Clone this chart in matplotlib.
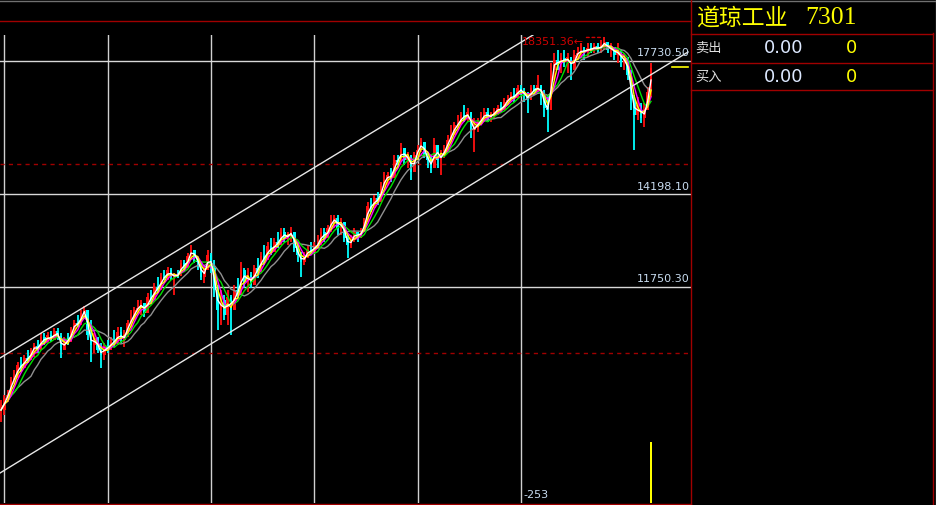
import matplotlib
matplotlib.use("Agg")
import matplotlib.pyplot as plt
from matplotlib.lines import Line2D
import numpy as np
import pandas as pd

plt.rcParams['font.family'] = ['Noto Sans CJK SC', 'DejaVu Sans']

# ---------------- data (Dow Jones index, bars) ----------------
high = [8754, 8886, 9019, 9363, 9548, 9760, 9892, 9945, 10078, 10130,
        10263, 10342, 10527, 10527, 10554, 10580, 10660, 10660, 10527, 10422,
        10527, 10686, 10872, 11004, 11136, 11242, 11136, 10872, 10527, 10422,
        10263, 10263, 10342, 10422, 10607, 10686, 10686, 10607, 10872, 11136,
        11216, 11401, 11401, 11322, 11586, 11666, 11851, 12010, 12116, 12195,
        12274, 12248, 12116, 12195, 12460, 12460, 12645, 12857, 12724, 12539,
        12380, 12274, 12724, 12645, 12460, 11798, 11666, 11533, 11666, 11533,
        11798, 11983, 12407, 12248, 12248, 12142, 12327, 12513, 12672, 12857,
        12936, 13042, 13042, 13201, 13307, 13307, 13201, 13333, 13201, 12936,
        12672, 12672, 12857, 12936, 12936, 13122, 13307, 13307, 13386, 13651,
        13651, 13651, 13571, 13386, 13122, 13122, 13307, 13201, 13307, 13571,
        13995, 14101, 14180, 14260, 14524, 14789, 14789, 14895, 15239, 15239,
        15557, 15319, 15319, 15160, 15319, 15504, 15689, 15504, 15319, 15239,
        15689, 15424, 15372, 15504, 15769, 16033, 16113, 16298, 16377, 16563,
        16483, 16298, 16219, 16219, 16377, 16483, 16483, 16377, 16483, 16563,
        16642, 16748, 16827, 16907, 17013, 17092, 17092, 17013, 16907, 17092,
        17092, 17357, 17092, 16960, 16827, 17674, 17939, 18018, 17939, 18018,
        17939, 17833, 18018, 18098, 18204, 18098, 18204, 18204, 18204, 18204,
        18283, 18351.36, 18204, 18204, 18098, 18204, 18018, 17939, 17833, 17489,
        16827, 16774, 16616, 16616, 17039, 17674]
low = [8172, 8357, 8701, 8966, 9178, 9363, 9495, 9628, 9733, 9813,
       9892, 9998, 10130, 10210, 10263, 10289, 10342, 10342, 9866, 10157,
       10210, 10342, 10527, 10686, 10872, 10951, 10342, 9760, 9998, 9998,
       9601, 9813, 9998, 10078, 10157, 10210, 10263, 10157, 10422, 10686,
       10872, 11057, 11004, 10951, 11136, 11322, 11480, 11586, 11745, 11930,
       11930, 11930, 11533, 11983, 12116, 12195, 12274, 12460, 12380, 12195,
       11930, 11851, 12195, 12116, 11480, 10607, 10739, 10872, 10739, 10475,
       11136, 11454, 11613, 11719, 11613, 11719, 11877, 11983, 12142, 12327,
       12513, 12592, 12672, 12777, 12857, 12936, 12857, 12936, 12672, 12407,
       12010, 12327, 12513, 12592, 12672, 12777, 12857, 12936, 13042, 13201,
       13307, 13122, 13122, 12936, 12513, 12777, 12936, 12936, 13042, 13201,
       13466, 13730, 13836, 13916, 14101, 14366, 14445, 14524, 14789, 14974,
       15160, 14974, 14895, 14577, 14974, 15160, 15319, 15160, 14895, 14763,
       15054, 14895, 14710, 15160, 15319, 15583, 15769, 15954, 16033, 16113,
       16113, 15689, 15319, 15848, 16033, 16113, 16113, 16113, 16219, 16298,
       16377, 16483, 16563, 16642, 16642, 16748, 16827, 16642, 16351, 16827,
       16827, 16907, 16563, 16245, 15848, 16695, 17224, 17489, 17410, 17568,
       17410, 17224, 17489, 17754, 17833, 17754, 17833, 17939, 17939, 17939,
       17939, 18018, 17939, 17833, 17754, 17674, 17568, 17489, 17224, 16430,
       15372, 16166, 16086, 15980, 16510, 16774]
close = [8489, 8807, 8886, 9283, 9336, 9680, 9601, 9866, 9813, 10078,
         10183, 10078, 10422, 10289, 10475, 10342, 10580, 10448, 10078, 10342,
         10289, 10607, 10792, 10739, 11057, 11136, 10475, 10210, 10395, 10078,
         9945, 10183, 10078, 10342, 10263, 10554, 10342, 10475, 10792, 10872,
         11136, 11189, 11322, 11057, 11480, 11401, 11745, 11666, 12010, 11983,
         12195, 12010, 12063, 12036, 12380, 12248, 12566, 12724, 12513, 12407,
         12010, 12195, 12592, 12248, 11666, 11136, 11401, 11004, 11480, 11136,
         11666, 11533, 12195, 11877, 12063, 11798, 12248, 12142, 12566, 12460,
         12830, 12672, 12936, 12857, 13201, 13042, 13122, 13201, 12777, 12592,
         12407, 12566, 12724, 12672, 12857, 12857, 13201, 13042, 13307, 13466,
         13571, 13307, 13466, 13042, 12857, 12989, 13201, 13042, 13254, 13466,
         13889, 13836, 14101, 13995, 14419, 14577, 14710, 14630, 15107, 15054,
         15424, 15107, 15239, 14789, 15239, 15372, 15583, 15239, 15107, 14895,
         15504, 15107, 15239, 15372, 15636, 15769, 16033, 16033, 16298, 16219,
         16377, 15901, 15954, 16113, 16166, 16377, 16219, 16298, 16377, 16483,
         16430, 16642, 16695, 16827, 16748, 17013, 16907, 16827, 16695, 17013,
         16907, 17092, 16827, 16483, 16430, 17489, 17754, 17621, 17807, 17701,
         17833, 17489, 17886, 17939, 18018, 17966, 18071, 18018, 18124, 18018,
         18151, 18230, 18018, 18098, 17886, 18018, 17701, 17807, 17357, 16695,
         16298, 16563, 16219, 16430, 16907, 17542]

ma_windows = [2, 3, 4, 6, 10]
ma_colors = ['#ffffff', '#ffff00', '#ff00ff', '#00e000', '#909090']

grid_bars = [1, 32, 63, 94, 125, 156]
level_lines = [17730.50, 14198.10, 11750.30]
level_labels = ['17730.50', '14198.10', '11750.30']
dashed_levels = [15000, 10000]

peak_value = 18351.36
peak_label = '18351.36'

# trend channel: two parallel lines (bar index, price)
chan_up_x = [-0.3, 159.6]
chan_up_y = [9866, 18416]
chan_lo_x = [-0.3, 206.1]
chan_lo_y = [6822, 17966]

last_marker_x = [201.3, 206.1]
last_marker_y = [17582, 17582]

ind_x = [195]
ind_v = [97]
ind_label = '-253'

title_name = '道琼工业'
title_code = '7301'
rows = [('卖出', '0.00', '0'), ('买入', '0.00', '0')]

# ---------------- figure ----------------
W, H = 937, 505
fig = plt.figure(figsize=(W / 100, H / 100), dpi=100, facecolor='black')

ax = fig.add_axes([0, 2 / H, 691 / W, 468 / H])
ax.set_facecolor('black')
ax.set_xlim(-0.3, 207.0)
ax.set_ylim(6028, 18416)
for s in ax.spines.values():
    s.set_visible(False)
ax.set_xticks([])
ax.set_yticks([])

# grid
for g in grid_bars:
    ax.axvline(g, color='#d0d0d0', lw=1.0, zorder=1)
for lv, lb in zip(level_lines, level_labels):
    ax.axhline(lv, color='#d8d8d8', lw=1.0, zorder=1)
    ax.annotate(lb, xy=(1.0, lv), xycoords=('axes fraction', 'data'),
                xytext=(-1, 2), textcoords='offset points', ha='right', va='bottom',
                color='#c8dcf0', fontsize=8, family='DejaVu Sans', zorder=6)
for dl in dashed_levels:
    ax.axhline(dl, color='#a00000', lw=1.0, ls=(0, (3, 3)), zorder=1)

# candles
idx = np.arange(len(close))
c = np.array(close, dtype=float)
o = np.concatenate([[c[0]], c[:-1]])
hi = np.array(high, dtype=float)
lo = np.array(low, dtype=float)
up = c >= o
cols = np.where(up, '#ff1010', '#00ffff')
ax.vlines(idx, lo, hi, colors=cols, lw=1.3, zorder=3)
ax.bar(idx, np.abs(c - o) + 1, bottom=np.minimum(o, c), width=0.75, color=cols, zorder=3, linewidth=0)

# moving averages
cs = pd.Series(c)
for w, col in zip(ma_windows[::-1], ma_colors[::-1]):
    ma = cs.rolling(w, min_periods=1).mean()
    ax.plot(idx, ma, color=col, lw=1.0, zorder=4)

# channel
ax.plot(chan_up_x, chan_up_y, color='#e8e8e8', lw=1.0, zorder=5)
ax.plot(chan_lo_x, chan_lo_y, color='#e8e8e8', lw=1.0, zorder=5)

# last price marker
ax.plot(last_marker_x, last_marker_y, color='#ffff00', lw=1.2, zorder=5)

# peak label
pk = int(np.argmax(hi))
ax.annotate('', xy=(pk - 0.3, peak_value), xytext=(pk - 6.2, peak_value),
            arrowprops=dict(arrowstyle='-', color='#d00000', lw=1, ls=(0, (2, 2))),
            zorder=6)
ax.annotate(peak_label + '←', xy=(pk - 6.2, peak_value), xytext=(0, -3), textcoords='offset points',
            ha='right', va='center', color='#d00000', fontsize=8,
            family=['DejaVu Sans'], zorder=6)

# indicator panel (bottom)
ax2 = fig.add_axes([0, 2 / H, 691 / W, 63 / H])
ax2.set_facecolor('none')
ax2.patch.set_alpha(0)
ax2.set_xlim(-0.3, 207.0)
ax2.set_ylim(0, 100)
for s in ax2.spines.values():
    s.set_visible(False)
ax2.set_xticks([])
ax2.set_yticks([])
ax2.bar(ind_x, ind_v, width=0.4, color='#ffff00', zorder=3)
ax2.text(grid_bars[-1] + 0.6, 4, ind_label, color='#c8dcf0', fontsize=8,
         family='DejaVu Sans', ha='left', va='bottom')

# ---------------- frame lines and right panel ----------------
def fline(x0, y0, x1, y1, color, lw=1.0):
    fig.add_artist(Line2D([x0 / W, x1 / W], [1 - y0 / H, 1 - y1 / H],
                          color=color, lw=lw, transform=fig.transFigure))

red = '#a00000'
fline(0, 0.5, W, 0.5, '#707070')
fline(0, 20.5, 691, 20.5, red)
fline(0, 503.5, 691, 503.5, red)
fline(691.5, 0, 691.5, H, red)
fline(691, 33.5, 933, 33.5, red)
fline(691, 62.5, 933, 62.5, red)
fline(691, 90.5, 933, 90.5, red)
fline(933.5, 33, 933.5, H, red)
fline(936, 0, 936, H, '#707070')

fig.text(696 / W, 1 - 18 / H, title_name, color='#ffff00', fontsize=16.5,
         ha='left', va='center', family=['Noto Sans CJK SC'])
fig.text(805 / W, 1 - 18 / H, title_code, color='#ffff00', fontsize=18.5,
         ha='left', va='center', family='Liberation Serif')
for k, (lab, v1, v2) in enumerate(rows):
    yc = 1 - (48 + 29 * k) / H
    fig.text(695 / W, yc, lab, color='#e0e0e0', fontsize=9.5, ha='left', va='center',
             family=['Noto Sans CJK SC'])
    fig.text(803 / W, yc, v1, color='#dce8ff', fontsize=13, ha='right', va='center',
             family='DejaVu Sans')
    fig.text(857 / W, yc, v2, color='#ffff00', fontsize=13, ha='right', va='center',
             family='DejaVu Sans')

fig.savefig('out.png', dpi=100, facecolor='black')
